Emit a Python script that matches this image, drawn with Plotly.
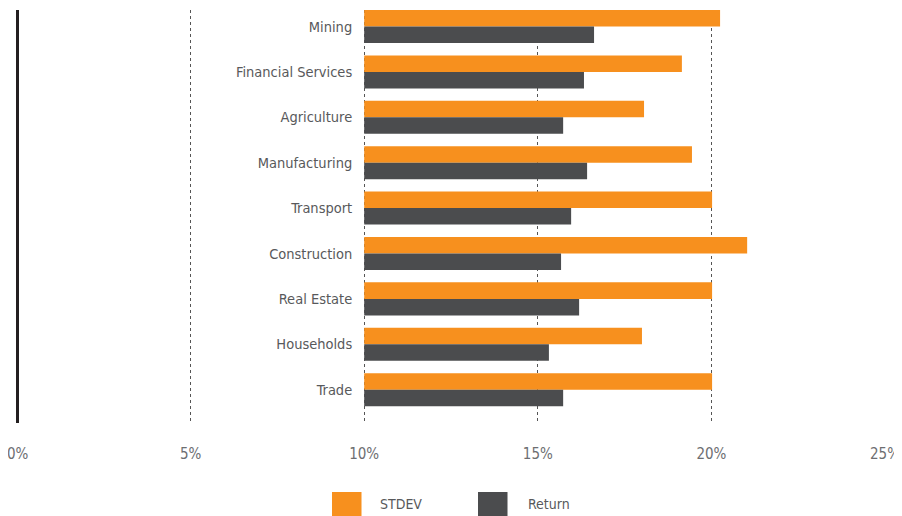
import plotly.graph_objects as go

categories = ["Mining", "Financial Services", "Agriculture", "Manufacturing", "Transport",
              "Construction", "Real Estate", "Households", "Trade"]
stdev = [20.25, 19.15, 18.06, 19.44, 20.02, 21.03, 20.02, 18.0, 20.02]
returns = [16.62, 16.33, 15.73, 16.42, 15.96, 15.67, 16.19, 15.32, 15.73]
base_pct = 10.0
tick_vals = [5, 10, 15, 20, 25]
tick_text = ["5%", "10%", "15%", "20%", "25%"]
zero_label = "0%"
series_names = ["STDEV", "Return"]
series_colors = ["#F7901E", "#4B4C4E"]

FONT = "DejaVu Sans Condensed, Liberation Sans Narrow, sans-serif"
TXT = "#58595B"
TICK = "#6D6E71"

fig = go.Figure()
for name, vals, col in zip(series_names, [stdev, returns], series_colors):
    fig.add_trace(go.Bar(
        y=categories, x=[v - base_pct for v in vals], base=base_pct,
        orientation="h", name=name, marker=dict(color=col, line=dict(width=0)),
        showlegend=False,
    ))

# 0% label kept inside the page edge
fig.add_annotation(xref="x", yref="paper", x=0, y=-0.075, xanchor="left", yanchor="middle",
                   xshift=-11, borderpad=0, text=zero_label, showarrow=False,
                   font=dict(family=FONT, size=15, color=TICK))

# custom legend (large swatches as in the reference)
leg_sw_x = [0.3629, 0.5311]
leg_txt_x = [0.4159, 0.5864]
for name, col, sx, tx in zip(series_names, series_colors, leg_sw_x, leg_txt_x):
    fig.add_shape(type="rect", xref="paper", yref="paper",
                  x0=sx, x1=sx + 0.0340, y0=-0.2300, y1=-0.1671,
                  fillcolor=col, line=dict(width=0))
    fig.add_annotation(xref="paper", yref="paper", x=tx, y=-0.1961,
                       xanchor="left", yanchor="middle", text=name, showarrow=False,
                       font=dict(family=FONT, size=14, color=TXT))

fig.update_layout(
    width=894, height=508,
    margin=dict(l=9, r=17, t=2, b=93, autoexpand=False),
    paper_bgcolor="white", plot_bgcolor="white",
    barmode="group", bargap=0.273, bargroupgap=0,
    font=dict(family=FONT, size=15, color=TXT),
    showlegend=False,
    xaxis=dict(range=[0, 25], tickvals=tick_vals, ticktext=tick_text,
               showgrid=True, gridcolor="#555555", griddash="dot", gridwidth=1,
               zeroline=True, zerolinecolor="#231F20", zerolinewidth=2.5,
               showline=False, ticks="", ticklabelstandoff=20, automargin=False,
               ticklabeloverflow="allow",
               tickfont=dict(family=FONT, size=15, color=TICK)),
    yaxis=dict(categoryorder="array", categoryarray=categories, range=[8.734, -0.363],
               anchor="free", position=0.4, showline=False, showgrid=False,
               zeroline=False, ticks="", ticklabelstandoff=12, automargin=False,
               tickfont=dict(family=FONT, size=14.5, color=TXT)),
)

fig.write_html("out.html")
